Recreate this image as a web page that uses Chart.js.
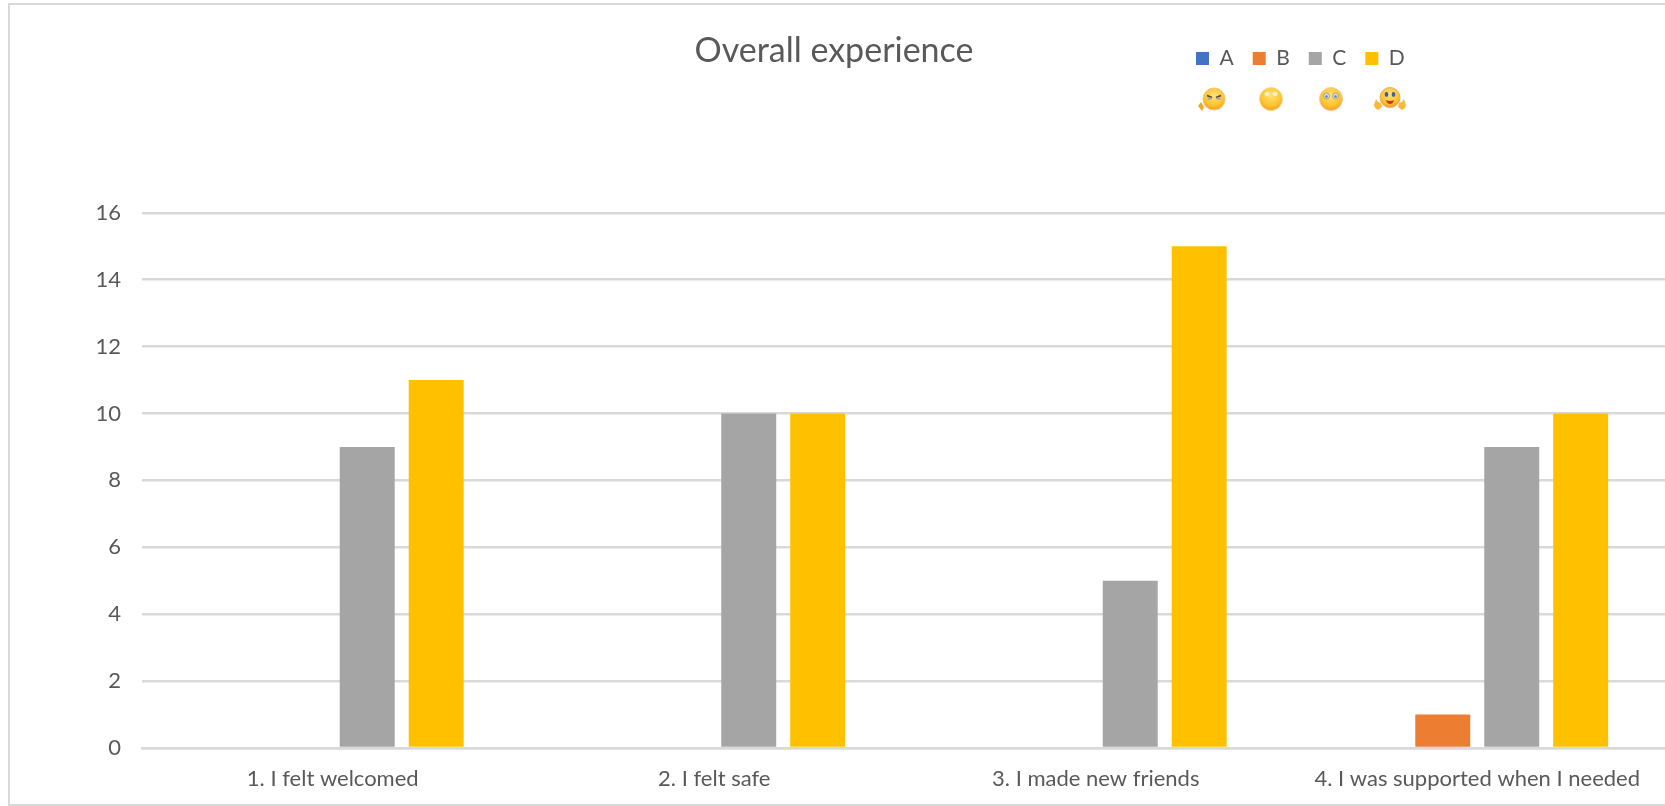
<!DOCTYPE html>
<html>
<head>
<meta charset="utf-8">
<title>Overall experience</title>
<script src="https://cdn.jsdelivr.net/npm/chart.js@4"></script>
<style>
    html, body { margin: 0; padding: 0; background: #fff; width: 1665px; height: 806px; overflow: hidden; }
    #wrap { position: absolute; left: 0; top: 0; width: 1680px; height: 806px; }
    #frame { position: absolute; left: 8px; top: 3px; width: 1700px; height: 799px; border: 2px solid #d9d9d9; pointer-events: none; }
    .face { position: absolute; top: 84px; width: 30px; height: 30px; }
</style>
</head>
<body>
<div id="frame"></div>
<div id="wrap"><canvas id="overallChart" width="1680" height="806"></canvas></div>

<!-- the little faces under the legend -->
<svg width="0" height="0" style="position:absolute">
    <defs>
        <radialGradient id="skin" cx="50%" cy="35%" r="65%">
            <stop offset="0%" stop-color="#ffe27a"/>
            <stop offset="70%" stop-color="#fcc22c"/>
            <stop offset="100%" stop-color="#f59a23"/>
        </radialGradient>
    </defs>
</svg>
<svg class="face" style="left:1196px" viewBox="0 0 30 30">
    <circle cx="18" cy="15" r="11" fill="url(#skin)" stroke="#f7c27a"/>
    <path d="M11 11.5l5 2M25 11.5l-5 2" stroke="#5a4030" stroke-width="1.6"/>
    <ellipse cx="13.5" cy="14.5" rx="2.2" ry="1.2" fill="#8fa8c8"/><ellipse cx="22.5" cy="14.5" rx="2.2" ry="1.2" fill="#8fa8c8"/>
    <path d="M2 22l3-4 3 5-2 4z" fill="#f5a623"/>
</svg>
<svg class="face" style="left:1256px" viewBox="0 0 30 30">
    <circle cx="15" cy="15" r="11.5" fill="url(#skin)" stroke="#f8dc90"/>
    <ellipse cx="11" cy="10" rx="2.6" ry="2" fill="#fff3c8"/><ellipse cx="19" cy="10" rx="2.6" ry="2" fill="#fff3c8"/>
</svg>
<svg class="face" style="left:1316px" viewBox="0 0 30 30">
    <circle cx="15" cy="15" r="11.5" fill="url(#skin)" stroke="#f7c9a0"/>
    <circle cx="10.5" cy="12" r="3" fill="#cfe3f2" stroke="#a58a50" stroke-width=".7"/><circle cx="19.5" cy="12" r="3" fill="#cfe3f2" stroke="#a58a50" stroke-width=".7"/>
    <circle cx="10.5" cy="12.5" r="1.3" fill="#5c7fa8"/><circle cx="19.5" cy="12.5" r="1.3" fill="#5c7fa8"/>
</svg>
<svg class="face" style="left:1373px;width:34px" viewBox="0 0 34 30">
    <circle cx="17" cy="13.5" r="10" fill="url(#skin)" stroke="#f2a860"/>
    <ellipse cx="13.5" cy="10.5" rx="1.8" ry="2.4" fill="#3d5fa8"/><ellipse cx="20.5" cy="10.5" rx="1.8" ry="2.4" fill="#3d5fa8"/>
    <path d="M13 16q4 2 8 0q-1 4-4 4t-4-4z" fill="#c0392b"/>
    <path d="M1 21l2-6 2 3 3 1 1 4-4 3-3-2zM33 21l-2-6-2 3-3 1-1 4 4 3 3-2z" fill="#f9b73c"/>
</svg>

<script>
// Chart values
const categories = ['1. I felt welcomed', '2. I felt safe', '3. I made new friends', '4. I was supported when I needed'];
const seriesNames = ['A', 'B', 'C', 'D'];
const seriesA = [0, 0, 0, 0];
const seriesB = [0, 0, 0, 1];
const seriesC = [9, 10, 5, 9];
const seriesD = [11, 10, 15, 10];
const seriesColors = ['#4472c4', '#ed7d31', '#a5a5a5', '#ffc000'];

const FONT = 'Lato, "Open Sans", sans-serif';
const TEXT_COLOR = '#595959';
const GRID_COLOR = '#d9d9d9';

// Moves the legend to the right of the title, the library would centre it on the canvas
const legendPlacer = {
    id: 'legendPlacer',
    beforeDraw(chart) {
        const legend = chart.legend;
        legend.left = 1177;
        legend.top = 29;
    }
};

function makeDataset(index, values) {
    return {
        label: seriesNames[index],
        data: values,
        backgroundColor: seriesColors[index],
        categoryPercentage: 0.723,
        barPercentage: 0.797
    };
}

new Chart(document.getElementById('overallChart'), {
    type: 'bar',
    data: {
        labels: categories,
        datasets: [
            makeDataset(0, seriesA),
            makeDataset(1, seriesB),
            makeDataset(2, seriesC),
            makeDataset(3, seriesD)
        ]
    },
    plugins: [legendPlacer],
    options: {
        responsive: false,
        animation: false,
        layout: { padding: { right: 12 } },
        plugins: {
            title: {
                display: true,
                text: 'Overall experience',
                color: TEXT_COLOR,
                font: { family: FONT, size: 34, weight: 'normal' },
                padding: { top: 31, bottom: 91 }
            },
            legend: {
                position: 'top',
                align: 'start',
                labels: {
                    color: TEXT_COLOR,
                    font: { family: FONT, size: 21 },
                    boxWidth: 13,
                    boxHeight: 13,
                    padding: 19
                }
            },
            tooltip: { enabled: false }
        },
        scales: {
            x: {
                afterFit: scale => { scale.height = 58; },
                grid: { display: false },
                border: { display: true, color: GRID_COLOR, width: 2.5, z: 1 },
                ticks: { color: TEXT_COLOR, font: { family: FONT, size: 22 }, padding: 10, maxRotation: 0 }
            },
            y: {
                min: 0,
                max: 16,
                afterFit: scale => { scale.width = 142; },
                grid: { color: GRID_COLOR, lineWidth: 2.5, drawTicks: false },
                border: { display: false },
                ticks: { stepSize: 2, color: TEXT_COLOR, font: { family: FONT, size: 22 }, padding: 21 }
            }
        }
    }
});
</script>
</body>
</html>
